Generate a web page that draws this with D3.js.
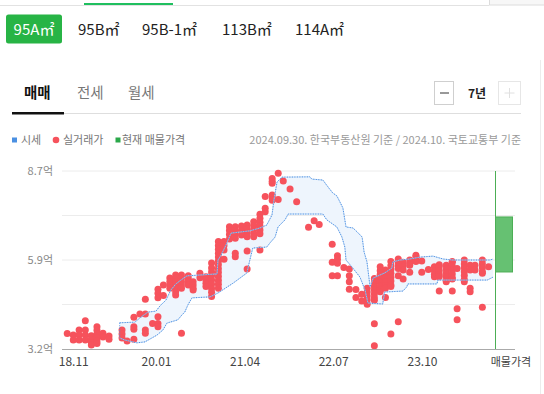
<!DOCTYPE html>
<html>
<head>
<meta charset="utf-8">
<script src="https://cdn.jsdelivr.net/npm/d3@7"></script>
<style>
  body { margin: 0; background: #fff; font-family: "Noto Sans CJK KR", "Noto Sans", sans-serif; }
  svg { display: block; }
</style>
</head>
<body>
<div id="container"></div>
<script>
const width = 544;
const height = 394;

const areaTypes = ["95A㎡", "95B㎡", "95B-1㎡", "113B㎡", "114A㎡"];
const tradeTabs = ["매매", "전세", "월세"];
const legendItems = ["시세", "실거래가", "현재 매물가격"];
const sourceNote = "2024.09.30. 한국부동산원 기준 / 2024.10. 국토교통부 기준";

const yTicks = [3.2, 4.575, 5.95, 7.325, 8.7];
const yTickLabels = ["3.2억", "", "5.9억", "", "8.7억"];
const xTicks = ["2018-11-01", "2020-01-01", "2021-04-01", "2022-07-01", "2023-10-01"];

// 시세 상한 / 하한 (억)
const upperBand = [
  ["2019-06-28", 4.01], ["2019-09-14", 4.03], ["2019-10-10", 4.16], ["2019-11-20", 4.34],
  ["2020-01-01", 4.37], ["2020-01-21", 4.53], ["2020-02-21", 4.71], ["2020-03-17", 5.02],
  ["2020-04-12", 5.21], ["2020-05-08", 5.33], ["2020-06-08", 5.46], ["2020-11-10", 5.52],
  ["2020-11-15", 5.95], ["2020-12-01", 6.10], ["2020-12-26", 6.41], ["2021-01-21", 6.78],
  ["2021-04-28", 6.85], ["2021-06-19", 6.94], ["2021-07-24", 7.03], ["2021-08-20", 7.34],
  ["2021-08-30", 7.80], ["2021-09-15", 8.36], ["2021-10-10", 8.51], ["2022-03-03", 8.52],
  ["2022-03-13", 8.45], ["2022-05-09", 8.42], ["2022-06-04", 8.21], ["2022-06-29", 8.02],
  ["2022-07-20", 7.93], ["2022-08-05", 7.74], ["2022-08-20", 7.56], ["2022-09-05", 6.97],
  ["2022-10-11", 6.94], ["2022-11-01", 6.82], ["2022-11-27", 6.66], ["2022-12-07", 6.20],
  ["2022-12-22", 5.89], ["2023-01-07", 5.12], ["2023-01-23", 5.39], ["2023-03-23", 5.55],
  ["2023-04-29", 5.70], ["2023-05-04", 5.89], ["2023-06-10", 5.95], ["2023-07-30", 5.98],
  ["2023-09-21", 6.04], ["2023-11-27", 6.07], ["2024-01-18", 5.98], ["2024-03-08", 5.95],
  ["2024-09-16", 5.95], ["2024-10-01", 5.98]
];
const lowerBand = [
  ["2019-06-28", 3.54], ["2019-07-23", 3.48], ["2019-09-25", 3.39], ["2019-11-05", 3.42],
  ["2020-01-06", 3.63], ["2020-02-06", 3.79], ["2020-02-26", 4.00], ["2020-04-22", 4.10],
  ["2020-05-13", 4.25], ["2020-05-28", 4.34], ["2020-06-13", 4.56], ["2020-07-04", 4.78],
  ["2020-10-05", 4.81], ["2020-11-15", 4.93], ["2021-02-02", 5.24], ["2021-04-13", 5.55],
  ["2021-04-28", 5.95], ["2021-05-13", 6.32], ["2021-07-24", 6.35], ["2021-08-10", 6.48],
  ["2021-09-05", 6.66], ["2021-09-20", 6.97], ["2021-10-26", 7.19], ["2021-11-11", 7.37],
  ["2022-05-09", 7.37], ["2022-05-29", 7.19], ["2022-07-20", 6.97], ["2022-08-15", 6.66],
  ["2022-08-30", 6.35], ["2022-09-05", 5.95], ["2022-10-06", 5.73], ["2022-11-16", 5.42],
  ["2022-12-12", 5.02], ["2022-12-27", 4.62], ["2023-03-13", 4.59], ["2023-03-23", 4.96],
  ["2023-06-25", 4.99], ["2023-07-15", 5.12], ["2023-07-20", 5.21], ["2023-12-17", 5.21],
  ["2023-12-22", 5.33], ["2024-09-01", 5.33], ["2024-10-01", 5.42]
];

// 실거래가 (억)
const trades = [
  ["2018-10-01", [3.68]],
  ["2018-11-01", [3.63, 3.48]],
  ["2018-12-01", [3.79, 3.63, 3.48]],
  ["2019-01-02", [4.07, 3.79, 3.63, 3.48]],
  ["2019-02-02", [3.61, 3.5, 3.4, 3.32]],
  ["2019-03-03", [3.89, 3.78, 3.66, 3.55, 3.45, 3.37]],
  ["2019-04-03", [3.69, 3.57]],
  ["2019-05-04", [3.6, 3.5]],
  ["2019-07-10", [3.79, 3.66, 3.54]],
  ["2019-08-05", [3.45]],
  ["2019-09-09", [4.18, 3.89, 3.81, 3.5]],
  ["2019-10-10", [4.28]],
  ["2019-11-07", [4.74, 4.28, 3.79, 3.69]],
  ["2019-12-14", [3.99]],
  ["2020-01-11", [5.05, 4.92, 4.78, 4.2, 3.99, 3.89]],
  ["2020-02-08", [5.18, 4.85]],
  ["2020-03-12", [5.39, 5.28, 5.18, 5.08]],
  ["2020-04-11", [5.49, 5.39, 5.28, 5.18, 5.08, 4.97, 4.87]],
  ["2020-05-11", [5.49, 5.39, 5.28, 5.18, 5.08, 3.69]],
  ["2020-06-15", [5.46, 5.36, 5.26, 5.18]],
  ["2020-07-10", [5.28, 5.18, 5.08, 5.02]],
  ["2020-08-14", [5.54, 5.4]],
  ["2020-09-14", [5.43, 5.33, 5.23, 5.13]],
  ["2020-10-13", [5.86, 5.7, 5.58, 5.46, 5.33, 5.2, 5.07, 4.95, 4.82]],
  ["2020-11-17", [6.52, 6.4, 6.28, 6.16, 6.04, 5.92, 5.8, 5.68, 5.56, 5.44, 5.32, 5.2, 5.08]],
  ["2020-12-16", [6.52, 6.4, 6.26, 5.97]],
  ["2021-01-13", [6.98, 6.86, 6.74, 6.6]],
  ["2021-02-12", [6.98, 6.86, 6.74, 6.62, 6.16, 6.05]],
  ["2021-03-16", [7.0, 6.86, 6.72]],
  ["2021-04-14", [7.03, 6.91, 6.79, 6.67, 6.23, 5.67]],
  ["2021-05-18", [7.13, 7.01, 6.89, 6.77, 6.67]],
  ["2021-06-19", [7.36, 7.24, 7.12, 7.0, 6.88, 6.76, 6.26]],
  ["2021-07-16", [7.91, 7.55, 7.44]],
  ["2021-08-21", [8.47, 8.38, 8.32, 7.96, 7.88, 7.8]],
  ["2021-09-21", [8.63, 7.82]],
  ["2021-10-17", [8.39]],
  ["2021-11-21", [8.14]],
  ["2021-12-25", [7.75]],
  ["2022-02-24", [6.96]],
  ["2022-03-25", [7.16]],
  ["2022-04-20", [7.05]],
  ["2022-06-26", [6.44, 5.88, 5.46]],
  ["2022-07-23", [6.08, 5.97, 5.85, 5.46]],
  ["2022-08-25", [5.72]],
  ["2022-09-22", [5.67, 5.46, 5.28, 5.05]],
  ["2022-10-26", [5.04, 4.79]],
  ["2022-11-25", [4.89, 4.68]],
  ["2022-12-23", [5.08, 4.96, 4.84, 4.72, 4.58]],
  ["2023-01-29", [5.38, 5.26, 5.14, 5.02, 4.9, 4.78, 4.71, 3.98, 3.3]],
  ["2023-02-28", [5.74, 5.62, 5.5, 5.38, 5.26, 5.14, 5.02, 4.97]],
  ["2023-03-27", [5.64, 5.52, 5.4, 5.28, 5.16, 5.08, 4.79]],
  ["2023-04-24", [5.9, 5.78, 5.66, 5.54, 5.42, 5.3, 5.18, 5.13, 3.66]],
  ["2023-06-01", [5.98, 5.86, 5.75, 5.69, 5.46, 4.04]],
  ["2023-06-26", [5.88, 5.76, 5.64, 5.36]],
  ["2023-07-30", [5.95, 5.85, 5.79, 5.57]],
  ["2023-08-31", [6.1, 6.05, 5.95, 5.9]],
  ["2023-09-30", [5.92, 5.57]],
  ["2023-11-03", [5.66]],
  ["2023-12-04", [5.74, 5.62, 5.5, 5.43]],
  ["2023-12-29", [5.8, 5.74, 5.62, 5.5, 5.43, 4.99]],
  ["2024-02-03", [5.79, 5.67, 5.55, 5.43, 5.31, 5.28]],
  ["2024-03-05", [5.9, 5.88, 5.76, 5.64, 5.52, 5.4, 5.36, 4.99]],
  ["2024-03-30", [5.69, 4.44, 4.1]],
  ["2024-05-06", [5.95, 5.83, 5.71, 5.59, 5.47, 5.35, 5.28]],
  ["2024-06-05", [5.79, 5.64, 5.08, 4.97]],
  ["2024-06-30", [5.79, 5.64]],
  ["2024-08-07", [5.95, 5.83, 5.71, 5.59, 5.54, 4.49]],
  ["2024-09-08", [5.74]]
];

// 현재 매물가격 범위 (억)
const listingRange = [5.58, 7.28];

const parse = d3.timeParse("%Y-%m-%d");

const svg = d3.select("#container").append("svg")
  .attr("width", width)
  .attr("height", height);

// ---- top strip
svg.append("line").attr("x1", 0).attr("x2", 489).attr("y1", 5.5).attr("y2", 5.5).attr("stroke", "#e2e2e2");
svg.append("rect").attr("x", 489.5).attr("y", -1).attr("width", 60).attr("height", 6)
  .attr("fill", "#f7f7f7").attr("stroke", "#dcdcdc");
svg.append("rect").attr("x", 84).attr("y", 3).attr("width", 89).attr("height", 2).attr("fill", "#1fbf5f");
svg.append("line").attr("x1", 540.5).attr("x2", 540.5).attr("y1", 60).attr("y2", height).attr("stroke", "#ececec");

// ---- area type chips
const chipX = [6, 78, 142, 222, 295];
svg.append("rect").attr("x", 6).attr("y", 14.5).attr("width", 56).attr("height", 29).attr("rx", 2.5)
  .attr("fill", "#27b445");
svg.selectAll(".chip")
  .data(areaTypes)
  .enter()
  .append("text")
  .attr("class", "chip")
  .attr("x", (d, i) => i === 0 ? 34 : chipX[i])
  .attr("y", 34.5)
  .attr("text-anchor", (d, i) => i === 0 ? "middle" : "start")
  .attr("font-size", 15)
  .attr("fill", (d, i) => i === 0 ? "#fff" : "#222")
  .text(d => d);

// ---- tabs
const tabX = [24, 77, 128];
svg.selectAll(".tab")
  .data(tradeTabs)
  .enter()
  .append("text")
  .attr("class", "tab")
  .attr("x", (d, i) => tabX[i])
  .attr("y", 98)
  .attr("font-size", 14.5)
  .attr("font-weight", (d, i) => i === 0 ? 700 : 400)
  .attr("fill", (d, i) => i === 0 ? "#111" : "#777")
  .text(d => d);
svg.append("line").attr("x1", 12).attr("x2", 521).attr("y1", 113.5).attr("y2", 113.5).attr("stroke", "#dedede");
svg.append("rect").attr("x", 12).attr("y", 112).attr("width", 52).attr("height", 2.5).attr("fill", "#111");

// zoom control
svg.append("rect").attr("x", 434.5).attr("y", 81.5).attr("width", 19).attr("height", 23)
  .attr("fill", "#fff").attr("stroke", "#cfcfcf");
svg.append("line").attr("x1", 440).attr("x2", 449).attr("y1", 93).attr("y2", 93).attr("stroke", "#333");
svg.append("text").attr("x", 477).attr("y", 97.5).attr("text-anchor", "middle")
  .attr("font-size", 12).attr("font-weight", 700).attr("fill", "#222").text("7년");
svg.append("rect").attr("x", 498.5).attr("y", 81.5).attr("width", 22).attr("height", 23)
  .attr("fill", "#fff").attr("stroke", "#e6e6e6");
svg.append("line").attr("x1", 504.5).attr("x2", 514.5).attr("y1", 93).attr("y2", 93).attr("stroke", "#e0e0e0");
svg.append("line").attr("x1", 509.5).attr("x2", 509.5).attr("y1", 88).attr("y2", 98).attr("stroke", "#e0e0e0");

// ---- legend
const legend = svg.append("g").attr("font-size", 11).attr("fill", "#777");
legend.append("rect").attr("x", 12).attr("y", 137.5).attr("width", 5).attr("height", 5).attr("fill", "#4a90e2");
legend.append("circle").attr("cx", 56).attr("cy", 140).attr("r", 3.3).attr("fill", "#f6525c");
legend.append("rect").attr("x", 115.5).attr("y", 137.5).attr("width", 5).attr("height", 5).attr("fill", "#2aa84a");
const legendX = [21, 63, 122];
legend.selectAll(".lg")
  .data(legendItems)
  .enter()
  .append("text")
  .attr("x", (d, i) => legendX[i])
  .attr("y", 144)
  .text(d => d);
svg.append("text").attr("x", 521).attr("y", 144).attr("text-anchor", "end")
  .attr("font-size", 11).attr("fill", "#9a9a9a").text(sourceNote);

// ---- chart
const plotLeft = 62, plotRight = 515, timeRight = 495;
const x = d3.scaleTime()
  .domain([parse("2018-09-04"), parse("2024-10-11")])
  .range([plotLeft, timeRight]);
const y = d3.scaleLinear()
  .domain([yTicks[0], yTicks[yTicks.length - 1]])
  .range([349, 171]);

// grid
svg.append("g")
  .selectAll("line")
  .data(yTicks.slice(1))
  .enter()
  .append("line")
  .attr("x1", plotLeft).attr("x2", plotRight)
  .attr("y1", d => y(d)).attr("y2", d => y(d))
  .attr("stroke", "#ececec");

const yAxis = svg.append("g")
  .attr("transform", "translate(" + plotLeft + ",0)")
  .call(d3.axisLeft(y).tickValues(yTicks).tickSize(0).tickPadding(9).tickFormat((d, i) => yTickLabels[i]));
yAxis.select(".domain").remove();
yAxis.selectAll("text").attr("font-size", 11).attr("fill", "#888").attr("font-family", "Noto Sans CJK KR");

// band
const bandData = upperBand.map(d => [parse(d[0]), d[1]]);
const lowData = lowerBand.map(d => [parse(d[0]), d[1]]);
const bandPath = d3.line().x(d => x(d[0])).y(d => y(d[1]));
const area = bandData.concat(lowData.slice().reverse());
svg.append("path")
  .attr("d", bandPath(area) + "Z")
  .attr("fill", "#eef5fd");

// trades
const points = [];
trades.forEach(t => t[1].forEach(p => points.push([parse(t[0]), p])));
svg.append("g")
  .selectAll("circle")
  .data(points)
  .enter()
  .append("circle")
  .attr("cx", d => x(d[0]))
  .attr("cy", d => y(d[1]))
  .attr("r", 3.5)
  .attr("fill", "#f6525c");

[bandData, lowData].forEach(line => {
  svg.append("path").attr("d", bandPath(line)).attr("fill", "none")
    .attr("stroke", "#a9cdf3").attr("stroke-width", 0.8);
  svg.append("path").attr("d", bandPath(line)).attr("fill", "none")
    .attr("stroke", "#4d8fe3").attr("stroke-width", 1).attr("stroke-dasharray", "1,1.5");
});
svg.append("line")
  .attr("x1", x(bandData[0][0])).attr("x2", x(bandData[0][0]))
  .attr("y1", y(bandData[0][1])).attr("y2", y(lowData[0][1]))
  .attr("stroke", "#4d8fe3").attr("stroke-dasharray", "1,1.5");

// baseline + x axis
svg.append("line").attr("x1", plotLeft).attr("x2", plotRight).attr("y1", 349.5).attr("y2", 349.5).attr("stroke", "#aaa");
const xAxis = svg.append("g")
  .attr("transform", "translate(0,349)")
  .call(d3.axisBottom(x).tickValues(xTicks.map(parse)).tickSize(0).tickPadding(8).tickFormat(d3.timeFormat("%y.%m")));
xAxis.select(".domain").remove();
xAxis.selectAll("text").attr("font-size", 12).attr("fill", "#444").attr("font-family", "Noto Sans CJK KR");

// listing price column
svg.append("line").attr("x1", timeRight + 0.5).attr("x2", timeRight + 0.5)
  .attr("y1", y(yTicks[yTicks.length - 1])).attr("y2", 349)
  .attr("stroke", "#4cae55");
svg.append("rect")
  .attr("x", timeRight + 0.5).attr("y", y(listingRange[1]))
  .attr("width", 17).attr("height", y(listingRange[0]) - y(listingRange[1]))
  .attr("fill", "#66c172").attr("stroke", "#4cae55");
svg.append("text").attr("x", 511).attr("y", 366).attr("text-anchor", "middle")
  .attr("font-size", 11).attr("fill", "#444").text("매물가격");
</script>
</body>
</html>
